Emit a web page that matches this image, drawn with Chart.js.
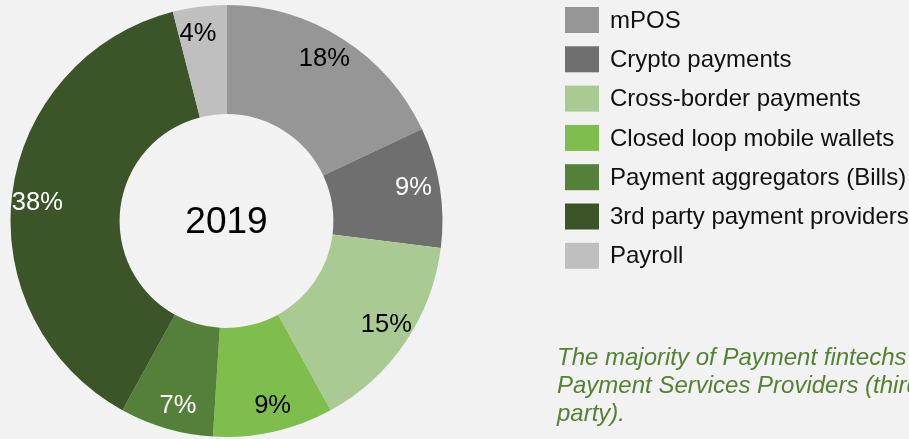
<!DOCTYPE html>
<html>
<head>
<meta charset="utf-8">
<script src="https://cdn.jsdelivr.net/npm/chart.js@4.4.0/dist/chart.umd.min.js"></script>
<style>
  html, body { margin:0; padding:0; background:#f2f2f2; }
  #wrap { width:909px; height:439px; position:relative; }
</style>
</head>
<body>
<div id="wrap"><canvas id="donut" width="909" height="439"></canvas></div>
<script>
// Data
const categories = ["mPOS", "Crypto payments", "Cross-border payments", "Closed loop mobile wallets",
  "Payment aggregators (Bills)", "3rd party payment providers", "Payroll"];
const shares = [18, 9, 15, 9, 7, 38, 4];
const sliceColors = ["#969696", "#6f6f6f", "#a9cb93", "#7fbd4d", "#548039", "#3b5529", "#bfbfbf"];
const labelColors = ["#000", "#fff", "#000", "#000", "#fff", "#fff", "#000"];
const centerText = "2019";
const noteLines = ["The majority of Payment fintechs are", "Payment Services Providers (third", "party)."];

const font = "'Liberation Sans', Arial, sans-serif";

// background + labels + center text + legend + note
const extras = {
  id: "extras",
  beforeDraw(chart) {
    const ctx = chart.ctx;
    ctx.save();
    ctx.fillStyle = "#f2f2f2";
    ctx.fillRect(0, 0, chart.width, chart.height);
    ctx.restore();
  },
  afterDatasetsDraw(chart) {
    const ctx = chart.ctx;
    const meta = chart.getDatasetMeta(0);
    ctx.save();
    ctx.textAlign = "center";
    ctx.textBaseline = "middle";
    ctx.font = "25.5px " + font;
    meta.data.forEach((arc, i) => {
      const a = (arc.startAngle + arc.endAngle) / 2 - 0.025;
      const r = arc.outerRadius * 0.88;
      ctx.fillStyle = labelColors[i];
      ctx.fillText(shares[i] + "%", arc.x + Math.cos(a) * r, arc.y + Math.sin(a) * r + 1);
    });
    const c = meta.data[0];
    ctx.fillStyle = "#000";
    ctx.font = "37px " + font;
    ctx.fillText(centerText, c.x, c.y + 2);

    // legend
    ctx.textAlign = "left";
    ctx.font = "24px " + font;
    categories.forEach((name, i) => {
      const y = 7 + i * 39.3;
      ctx.fillStyle = sliceColors[i];
      ctx.fillRect(565, y, 34, 26);
      ctx.fillStyle = "#111";
      ctx.fillText(name, 610, y + 14);
    });

    // note
    ctx.fillStyle = "#548235";
    ctx.font = "italic 24px " + font;
    ctx.textBaseline = "alphabetic";
    noteLines.forEach((line, i) => ctx.fillText(line, 557, 365 + i * 28));
    ctx.restore();
  }
};

new Chart(document.getElementById("donut"), {
  type: "doughnut",
  data: {
    labels: categories,
    datasets: [{
      data: shares,
      backgroundColor: sliceColors,
      borderWidth: 0
    }]
  },
  options: {
    responsive: false,
    animation: false,
    cutout: "49.5%",
    layout: { padding: { left: 10.5, top: 5, bottom: 2, right: 466.5 } },
    plugins: { legend: { display: false }, tooltip: { enabled: false } }
  },
  plugins: [extras]
});
</script>
</body>
</html>
